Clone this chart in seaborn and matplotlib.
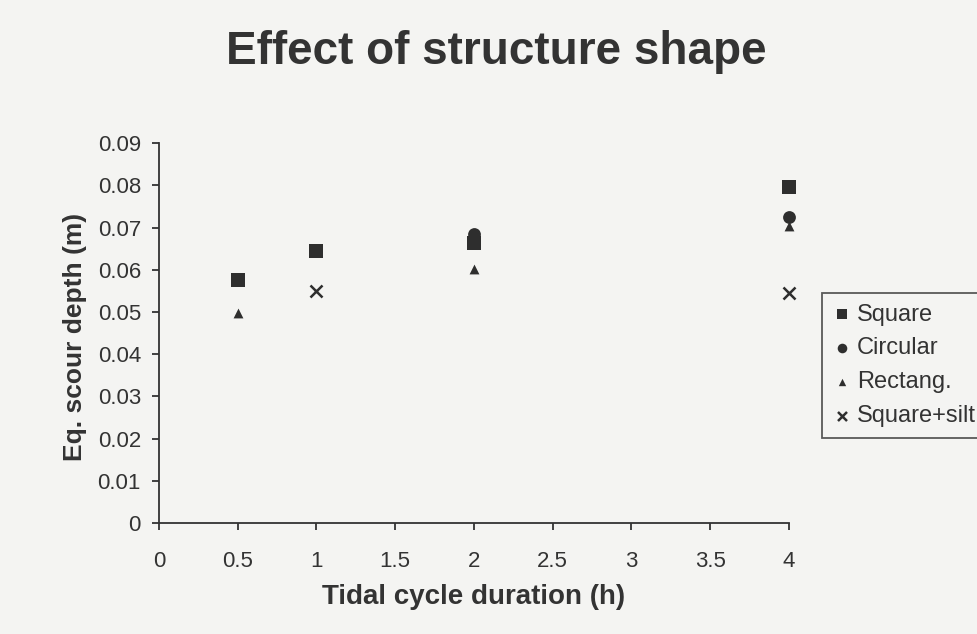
import matplotlib
matplotlib.use('Agg')
import matplotlib.pyplot as plt
import seaborn as sns
import pandas as pd

# values
square_x = [0.5, 1, 2, 4]
square_y = [0.0575, 0.0644, 0.0663, 0.0796]
circular_x = [2, 4]
circular_y = [0.0685, 0.0725]
rectang_x = [0.5, 2, 4]
rectang_y = [0.0498, 0.0602, 0.0705]
silt_x = [1, 4]
silt_y = [0.055, 0.0545]

series = ['Square', 'Circular', 'Rectang.', 'Square+silt']
xticks = [0, 0.5, 1, 1.5, 2, 2.5, 3, 3.5, 4]
yticks = [0, 0.01, 0.02, 0.03, 0.04, 0.05, 0.06, 0.07, 0.08, 0.09]

rows = []
for name, xs, ys in zip(series, [square_x, circular_x, rectang_x, silt_x],
                        [square_y, circular_y, rectang_y, silt_y]):
    for x, y in zip(xs, ys):
        rows.append({'duration': x, 'depth': y, 'shape': name})
df = pd.DataFrame(rows)

sns.set_style('ticks')
plt.rcParams['font.family'] = ['Liberation Sans', 'DejaVu Sans']
bg = '#f4f4f2'
ink = '#2e2e2e'

fig = plt.figure(figsize=(9.77, 6.34), dpi=100, facecolor=bg)
ax = fig.add_axes([0.1627, 0.175, 0.6448, 0.599], facecolor=bg)

markers = {'Square': 's', 'Circular': 'o', 'Rectang.': '^', 'Square+silt': 'x'}
sizes = {'Square': 100, 'Circular': 85, 'Rectang.': 50, 'Square+silt': 75}
for name in series:
    sub = df[df['shape'] == name]
    kw = dict(linewidth=1.8) if name == 'Square+silt' else dict(linewidth=0)
    sns.scatterplot(data=sub, x='duration', y='depth', ax=ax, marker=markers[name],
                    s=sizes[name], color=ink, label=name, zorder=3,
                    clip_on=False, **kw)

ax.set_xlim(0, 4)
ax.set_ylim(0, 0.09)
ax.set_xticks(xticks)
ax.set_xticklabels([f'{t:g}' for t in xticks])
ax.set_yticks(yticks)
ax.set_yticklabels([f'{t:g}' for t in yticks])
for s in ['top', 'right']:
    ax.spines[s].set_visible(False)
for s in ['left', 'bottom']:
    ax.spines[s].set_color('#333333')
    ax.spines[s].set_linewidth(1.3)
ax.tick_params(axis='both', labelsize=16, length=5, width=1.3, color='#333333',
               labelcolor='#333333')
ax.tick_params(axis='x', pad=15)
ax.tick_params(axis='y', pad=8)

ax.set_xlabel('Tidal cycle duration (h)', fontsize=20, fontweight='bold', color='#333333')
ax.set_ylabel('Eq. scour depth (m)', fontsize=19, fontweight='bold', color='#333333')
ax.xaxis.set_label_coords(0.5, -0.195)
ax.xaxis.label.set_va('center')
ax.yaxis.set_label_coords(-0.133, 0.49)
ax.yaxis.label.set_va('center')
fig.text(0.508, 0.918, 'Effect of structure shape', ha='center', va='center',
         fontsize=33, fontweight='bold', color='#333333')

handles, labels = ax.get_legend_handles_labels()
leg = ax.legend(handles, labels, loc='upper left', bbox_to_anchor=(0.841, 0.538),
                bbox_transform=fig.transFigure, frameon=True, fancybox=False,
                edgecolor='#333333', facecolor=bg, fontsize=17, handletextpad=0.25,
                handlelength=0.8, markerscale=0.75, borderpad=0.45, labelspacing=0.5,
                borderaxespad=0)
leg.get_frame().set_linewidth(1.3)
for t in leg.get_texts():
    t.set_color('#333333')

plt.savefig('out.png', dpi=100, facecolor=bg)
plt.close()
